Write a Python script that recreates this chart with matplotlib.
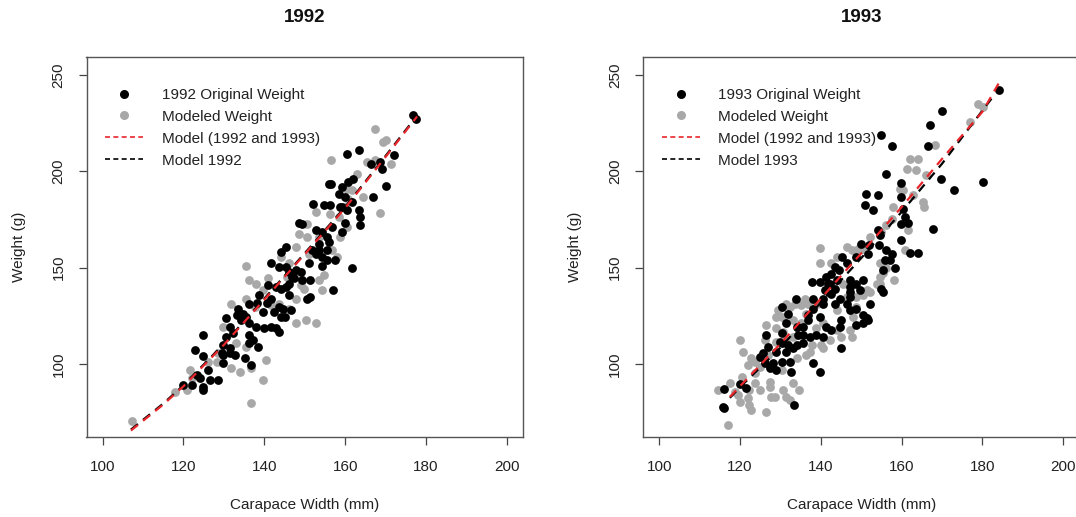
import matplotlib
matplotlib.use("Agg")
import matplotlib.pyplot as plt
from matplotlib.lines import Line2D

plt.rcParams['font.family'] = ['Liberation Sans', 'DejaVu Sans']

# ---------------- data: 1992 ----------------
w92_orig = [176.7, 177.5, 160.4, 163.4, 172.2, 166.5, 168.6, 169, 170.2, 166.9, 155.9, 156.6, 162, 160.8,
            159.2, 158.4, 160, 159.2, 160.4, 161.6, 163.7, 163.7, 163.4, 152, 154.7, 156.3, 148.6, 149.4,
            152.7, 154.3, 156.7, 155.5, 156, 153.5, 157.6, 161.6, 144.1, 145.3, 141.6, 143.7, 145.3, 146.1,
            146.9, 147.8, 149, 146.9, 149.4, 151.4, 151, 154.3, 155.5, 153.5, 157.1, 151.4, 150.6, 142.9,
            144.1, 140.8, 138.8, 136.3, 133.5, 134.7, 135.5, 134.3, 136.3, 138, 130.6, 131.4, 132.2, 130.6,
            136.3, 137.1, 138.4, 136.3, 135.1, 136.7, 132.7, 131.4, 129.8, 129.8, 129.8, 124.9, 122.9, 124.9,
            126.1, 123.3, 124.1, 124.9, 124.9, 122, 120, 126.5, 128.6, 141.6, 144.5, 144.1, 141.6, 140,
            142.9, 143.7, 139.6, 145.3, 146.1, 147.3, 143.7, 142.4, 146.1, 146.5, 145, 154.3, 155.5, 151.8,
            152.7, 159.2, 160, 158.8, 133.2, 138.1, 140.6, 129.5, 131.5]
y92_orig = [229, 227, 209.2, 210.9, 208.3, 204, 205, 201.4, 192.2, 186.7, 193.6, 193.4, 196.2, 194.5,
            192, 188.4, 186.7, 181.5, 179.8, 184, 176.3, 172, 179.8, 183.2, 182.4, 182.4, 173.2, 172.9,
            169.4, 168.6, 171.2, 166, 163.4, 162.5, 154, 150, 158.2, 160.8, 152.5, 150.4, 150.4, 147.8,
            147, 148.7, 147.8, 145.3, 143.5, 143.5, 152.2, 155.6, 159.1, 159.1, 138.3, 134.9, 134, 140,
            138.7, 140.9, 135.8, 131.4, 128.8, 126.2, 124.5, 122.8, 121.1, 119.3, 123.7, 119.3, 115.9, 114.2,
            115, 112.4, 109, 110.7, 102.9, 99.5, 104.7, 108.1, 109.8, 100.3, 104.7, 115, 107.3, 104.1,
            96.9, 94.3, 92.6, 88.3, 86.5, 89.1, 89.1, 91.7, 91.7, 134, 128.8, 124.5, 119.3, 118.5,
            118.5, 116.8, 127.1, 140, 141.8, 144.4, 129.7, 127.1, 135.8, 128, 124.5, 150.8, 154.2, 159.1,
            157.3, 168.6, 173.2, 181.5, 125.4, 131.5, 131.6, 105.5, 105.7]

w92_mod = [107.2, 118, 121.6, 120.8, 128.2, 131.8, 133.9, 136.7, 136.7, 139.6, 140.4, 135.5, 131.8, 135.5,
           136.3, 135.5, 141, 141.6, 143.7, 147.8, 147.8, 150.2, 152.7, 146.1, 149, 149.4, 149.8, 153.5,
           154.7, 147.8, 148.6, 150.6, 152.7, 156.3, 156.7, 157.9, 158.8, 160.4, 158.4, 160, 161.6, 160.4,
           164.5, 165.3, 168.6, 167.4, 169.4, 170.2, 171.4, 167.4, 156.6, 163, 160.8, 144.1, 146.1, 145.7,
           138, 139.6, 137.6, 129.8, 133.1, 128.6, 126.1, 122.1, 154.3, 151, 153.5, 150.6]
y92_mod = [70.6, 85.7, 96.9, 86.5, 101.2, 97.8, 96, 97.8, 80, 91.7, 102.1, 109, 131.4, 134,
           143.5, 150.8, 144.7, 130.6, 131.4, 134, 121.1, 122.8, 121.1, 128.8, 140.9, 143.5, 139.2, 143.5,
           146.1, 160.8, 167.7, 166, 178.9, 178.1, 159.1, 155.6, 166, 171.2, 176.3, 181.5, 190.2, 191,
           186.7, 204.8, 178.4, 222.1, 215.2, 216.1, 204, 205.7, 206, 198.8, 185.8, 155.6, 152.2, 145.3,
           141.8, 138.3, 129.7, 119.3, 110.7, 105.5, 101.2, 92.6, 138.3, 157.3, 166, 172.9]

# model curves
line92_all_x = [107, 115, 120, 130, 140, 150, 160, 170, 177.8]
line92_all_y = [65.5, 79, 88.5, 110, 133.5, 157, 181, 207.5, 228.5]
line92_own_x = [107, 115, 120, 130, 140, 150, 160, 170, 177.8]
line92_own_y = [66, 79.5, 89, 110.5, 134, 157.5, 181.5, 208, 229]

# ---------------- data: 1993 ----------------
w93_orig = [184.1, 170.1, 166.9, 166.5, 157.6, 155, 156.1, 169.8, 172.9, 180.1, 159.9, 151.1, 154.2, 159.9,
            150.9, 152.8, 160.3, 160.8, 161.6, 159.9, 167.8, 154.2, 154.6, 159.9, 149.9, 152, 151.7, 148.8,
            154.4, 156.2, 157.7, 155.8, 157, 162, 164.1, 145.2, 146.4, 143.4, 144.6, 142.6, 141.4, 139.7,
            141.8, 143.9, 147.2, 148.8, 150.5, 149.6, 147.2, 147.1, 155, 155.4, 152.1, 151.3, 151.7, 148.8,
            145.1, 144.7, 147.2, 144.7, 142.6, 140.6, 140.6, 138.1, 138.1, 137.8, 136.9, 139.7, 141.4, 142.6,
            138.9, 137.3, 135.6, 134, 134.4, 133.8, 130.3, 131.9, 131.5, 130.3, 130, 131.9, 133.1, 131.5,
            129, 145.1, 138.1, 139.7, 133.3, 127, 125.7, 124.9, 126.1, 127.4, 129, 128.2, 130.3, 132.3,
            132.7, 120, 121.6, 116, 115.7, 116, 126.5, 130.3, 134, 135.6, 141, 143.4, 142.2, 143.4,
            146.4, 147.2, 148.8, 150.5, 155.4, 158.3, 150.5, 140.6, 135.6, 136.9]
y93_orig = [242, 231.1, 223.8, 213, 213, 218.7, 198.8, 196.2, 190.5, 194.5, 194, 188.4, 187.9, 186.7,
            182.4, 179.8, 180.7, 176.3, 173.2, 172.9, 169.9, 169.4, 166.8, 164.2, 162.5, 161.6, 157.3, 155.6,
            161.6, 159.1, 157.3, 153.9, 153.9, 157.7, 157.7, 155.6, 152.2, 150.4, 148.7, 146.9, 145.3, 142.7,
            141.8, 143.5, 143.5, 141.8, 143.5, 138.3, 140, 137.5, 139.2, 137.5, 131.4, 123.7, 122.8, 120.2,
            122.8, 119.3, 128, 134, 136.6, 134, 131.4, 134, 128.8, 142.7, 122.8, 124.5, 119.3, 117.6,
            115, 114.2, 115, 119.3, 115, 134, 129.7, 126.2, 121.1, 115.9, 111.6, 109.8, 108.1, 106.4,
            106.4, 108.1, 100.3, 96, 78.8, 109, 105.5, 103.8, 100.3, 97.8, 96.9, 100.3, 101.2, 101.2,
            96, 89.5, 87.4, 86.9, 77.9, 77, 115, 110.7, 109.8, 110.7, 138.3, 139.2, 141.8, 131.4,
            131.4, 134.9, 128.8, 125.4, 148.7, 149.6, 121.1, 114.2, 119.3, 125.4]

w93_mod = [178.9, 180.1, 176.8, 168.2, 164.1, 162, 161.2, 163.6, 166.1, 159.5, 160.3, 162.7, 165.2, 165.6,
           157.9, 156.2, 155, 157.6, 161.6, 160.8, 152.1, 150.5, 149.2, 147.6, 146.4, 139.7, 139.9, 142.6,
           143.9, 154.6, 156.2, 158, 154.6, 151.3, 150.5, 148.8, 146.4, 154.6, 148, 147.6, 145.1, 140.1,
           138.9, 136.4, 136, 136.9, 135.2, 139.1, 133.6, 132.3, 129.4, 129, 130.3, 131.5, 126.5, 129,
           130.7, 133.1, 135.2, 126.1, 120, 120.8, 122.8, 123.6, 121.9, 124.9, 123.6, 120.4, 117.5, 114.6,
           118.7, 119.5, 121.9, 122.3, 122.8, 117.1, 123.8, 124.9, 127.4, 127.4, 128.6, 126.5, 130.7, 131.5,
           133.1, 134.7, 127.7, 122.3, 120, 134, 136.4, 140.6, 147.2, 143.9, 142.2, 148.8, 152.1, 153.8,
           155.4, 145.5, 143.9, 140.6, 133.1, 131.5, 137.7, 137.3, 127, 129, 130.3, 132.3]
y93_mod = [235.1, 233.3, 225.6, 213.5, 206.6, 206.6, 201.4, 200.5, 197.9, 191, 190.2, 187.6, 184.1, 181.5,
           181.5, 172, 168.6, 175.5, 169.4, 159.1, 166, 159.9, 159.9, 159.1, 160.8, 160, 152.2, 152.2,
           155.6, 152.2, 149.6, 143.5, 141.8, 138.3, 135.8, 134.9, 134.9, 145.3, 124.5, 114.2, 114.2, 109.8,
           118.5, 126.2, 134, 131.4, 130.6, 131.4, 131.4, 129.7, 128, 124.5, 124.5, 131.4, 120.2, 118.5,
           116.8, 122.8, 121.1, 112.4, 112.4, 106.4, 103, 101.2, 99.5, 98.6, 95.2, 93.4, 90, 86.5,
           85.7, 84, 82.2, 78.8, 76.2, 68.4, 90, 86.5, 90.8, 88.3, 83.1, 75.3, 86.5, 83.1,
           90, 86.5, 83.1, 86.5, 80.4, 102.9, 104.7, 108.1, 117.6, 117.6, 112.4, 129.7, 137.5, 141.8,
           147, 141.8, 128, 121.1, 114.2, 112.4, 109.8, 106.4, 104.7, 111.6, 96.9, 81.4]

line93_all_x = [117.5, 120, 130, 140, 150, 160, 170, 180, 184.5]
line93_all_y = [83, 88.5, 110.5, 134, 157.5, 181.5, 206.5, 231, 247.5]
line93_own_x = [117.5, 120, 130, 140, 150, 160, 170, 182.5]
line93_own_y = [82.5, 88, 108.5, 132, 155, 179, 204, 238.5]

x_ticks = [100, 120, 140, 160, 180, 200]
y_ticks = [100, 150, 200, 250]

GREY = '#a8a8a8'
TXT = '#222222'
W, H = 1076, 517
FS = 11

fig = plt.figure(figsize=(W / 100, H / 100), dpi=100)
fig.patch.set_facecolor('white')

panels = [
    (86.5, '1992', w92_orig, y92_orig, w92_mod, y92_mod,
     line92_all_x, line92_all_y, line92_own_x, line92_own_y, 'Model 1992'),
    (643.0, '1993', w93_orig, y93_orig, w93_mod, y93_mod,
     line93_all_x, line93_all_y, line93_own_x, line93_own_y, 'Model 1993'),
]

ax_w, ax_top, ax_bot = 436.5, 56.7, 436.7
for left, year, xo, yo, xm, ym, lax, lay, lox, loy, own_label in panels:
    ax = fig.add_axes([left / W, (H - ax_bot) / H, ax_w / W, (ax_bot - ax_top) / H])
    ax.scatter(xm, ym, s=40, color=GREY, linewidths=0, zorder=2)
    ax.scatter(xo, yo, s=40, color='black', linewidths=0, zorder=3)
    ax.plot(lox, loy, color='black', lw=1.6, dashes=(4, 3), zorder=4)
    ax.plot(lax, lay, color='#e8262b', lw=1.6, dashes=(4, 3), zorder=5)
    ax.set_xlim(96, 204)
    ax.set_ylim(62.3, 259.5)
    ax.set_xticks(x_ticks)
    ax.set_yticks(y_ticks)
    ax.tick_params(axis='both', length=6, width=0.9, color='#444444', labelsize=FS,
                   labelcolor=TXT)
    ax.tick_params(axis='x', pad=11)
    ax.tick_params(axis='y', pad=9)
    for lab in ax.get_yticklabels():
        lab.set_rotation(90)
        lab.set_va('center')
    for sp in ax.spines.values():
        sp.set_color('#555555')
        sp.set_linewidth(1.0)

    handles = [
        Line2D([], [], ls='none', marker='o', ms=6.5, color='black', mec='none'),
        Line2D([], [], ls='none', marker='o', ms=6.5, color=GREY, mec='none'),
        Line2D([], [], color='#e8262b', lw=1.2, dashes=(3, 2)),
        Line2D([], [], color='black', lw=1.2, dashes=(3, 2)),
    ]
    labels = [year + ' Original Weight', 'Modeled Weight', 'Model (1992 and 1993)', own_label]
    leg = ax.legend(handles, labels, loc='upper left', bbox_to_anchor=(0.043, 0.918),
                    frameon=False, fontsize=FS, handlelength=2.5, handletextpad=1.2,
                    labelspacing=0.52, borderpad=0, borderaxespad=0)
    for t in leg.get_texts():
        t.set_color(TXT)

    cx = (left + ax_w / 2) / W
    fig.text(cx, 1 - 18 / H, year, ha='center', va='center', fontsize=13.5,
             fontweight='bold', color='#111111')
    fig.text(cx, 1 - 505 / H, 'Carapace Width (mm)', ha='center', va='center',
             fontsize=FS, color=TXT)
    fig.text((left - 68) / W, 1 - ((ax_top + ax_bot) / 2) / H, 'Weight (g)', ha='center',
             va='center', rotation=90, fontsize=FS, color=TXT)

fig.savefig('out.png', dpi=100, facecolor='white')
